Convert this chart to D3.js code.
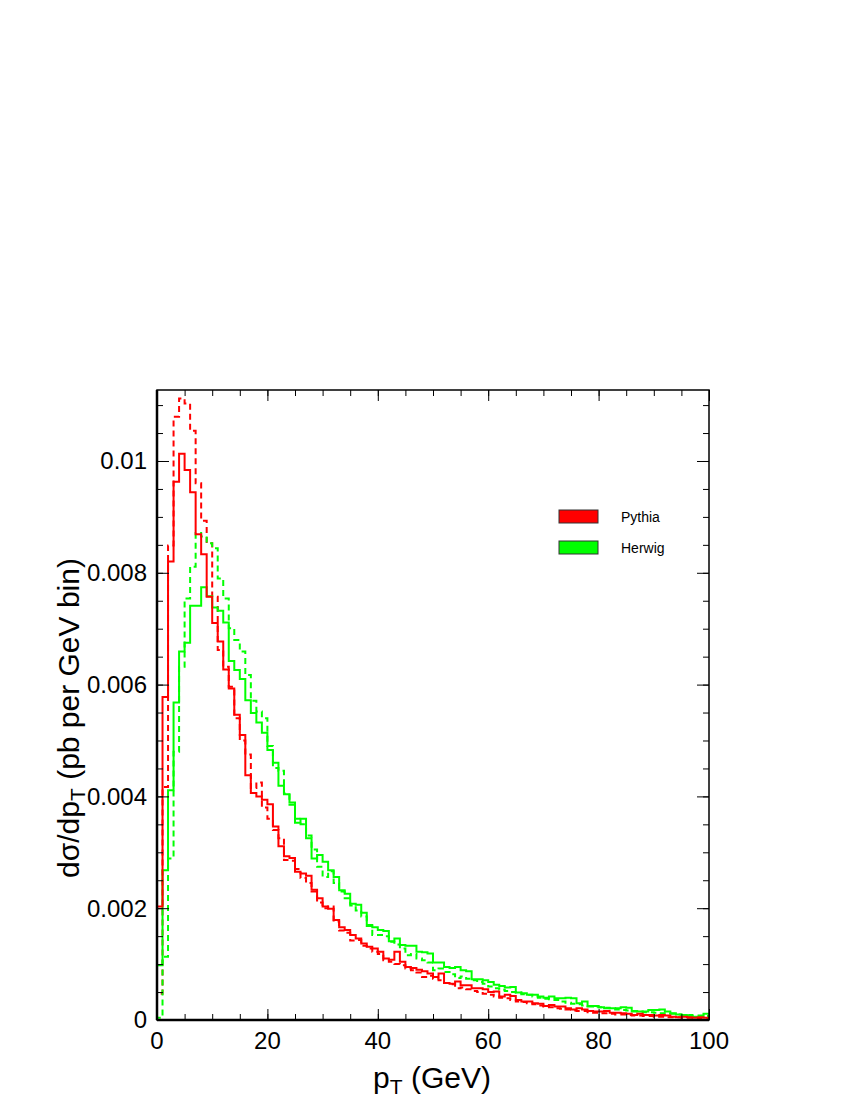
<!DOCTYPE html>
<html>
<head>
<meta charset="utf-8">
<script src="https://cdn.jsdelivr.net/npm/d3@7"></script>
<style>
  body { margin: 0; background: #fff; }
  svg text { font-family: "Liberation Sans", Arial, Helvetica, sans-serif; }
</style>
</head>
<body>
<svg id="chart" width="850" height="1100"></svg>
<script>
// ---- data (1 GeV bins, 0..100 GeV) ----
const binEdges = [0, 100];
const seriesNames = ["Pythia", "Herwig"];
const seriesColors = ["#ff0000", "#00ff00"];

const pythiaSolid = [
  0.00203, 0.00578, 0.00820, 0.00963, 0.01013, 0.00984, 0.00944, 0.00869, 0.00833, 0.00757,
  0.00710, 0.00677, 0.00627, 0.00593, 0.00546, 0.00510, 0.00438, 0.00406, 0.00400, 0.00394,
  0.00386, 0.00346, 0.00311, 0.00293, 0.00290, 0.00265, 0.00262, 0.00258, 0.00233, 0.00218,
  0.00203, 0.00199, 0.00179, 0.00166, 0.00161, 0.00152, 0.00146, 0.00137, 0.00131, 0.00128,
  0.00122, 0.00110, 0.00108, 0.00122, 0.00104, 0.00095, 0.00093, 0.00090, 0.00087, 0.00083,
  0.00077, 0.00083, 0.00066, 0.00065, 0.00069, 0.00062, 0.00062, 0.00057, 0.00057, 0.00055,
  0.00050, 0.00051, 0.00042, 0.00045, 0.00043, 0.00036, 0.00033, 0.00033, 0.00030, 0.00029,
  0.00025, 0.00027, 0.00024, 0.00024, 0.00021, 0.00019, 0.00021, 0.00019, 0.00016, 0.00015,
  0.00015, 0.00016, 0.00013, 0.00013, 0.00012, 0.00011, 0.00009, 0.00011, 0.00009, 0.00009,
  0.00008, 0.00009, 0.00008, 0.00006, 0.00005, 0.00006, 0.00005, 0.00004, 0.00005, 0.00004
];
const pythiaDashed = [
  0.00047, 0.00417, 0.00849, 0.01079, 0.01112, 0.01103, 0.01054, 0.00960, 0.00893, 0.00853,
  0.00757, 0.00662, 0.00632, 0.00596, 0.00540, 0.00500, 0.00475, 0.00415, 0.00425, 0.00380,
  0.00360, 0.00340, 0.00325, 0.00286, 0.00285, 0.00270, 0.00254, 0.00245, 0.00230, 0.00210,
  0.00200, 0.00203, 0.00176, 0.00160, 0.00156, 0.00142, 0.00143, 0.00133, 0.00128, 0.00122,
  0.00118, 0.00107, 0.00104, 0.00100, 0.00098, 0.00092, 0.00089, 0.00085, 0.00077, 0.00079,
  0.00074, 0.00071, 0.00066, 0.00064, 0.00057, 0.00058, 0.00055, 0.00052, 0.00050, 0.00047,
  0.00045, 0.00042, 0.00040, 0.00039, 0.00036, 0.00033, 0.00032, 0.00030, 0.00028, 0.00026,
  0.00024, 0.00023, 0.00021, 0.00020, 0.00019, 0.00017, 0.00016, 0.00016, 0.00014, 0.00013,
  0.00012, 0.00012, 0.00011, 0.00010, 0.00010, 0.00009, 0.00008, 0.00008, 0.00007, 0.00007,
  0.00006, 0.00006, 0.00005, 0.00005, 0.00005, 0.00004, 0.00004, 0.00004, 0.00003, 0.00003
];
const herwigSolid = [
  0.00098, 0.00268, 0.00411, 0.00568, 0.00659, 0.00675, 0.00741, 0.00741, 0.00774, 0.00758,
  0.00738, 0.00732, 0.00711, 0.00642, 0.00626, 0.00610, 0.00572, 0.00549, 0.00532, 0.00514,
  0.00483, 0.00460, 0.00419, 0.00404, 0.00389, 0.00353, 0.00360, 0.00325, 0.00289, 0.00295,
  0.00283, 0.00268, 0.00256, 0.00232, 0.00226, 0.00208, 0.00206, 0.00192, 0.00168, 0.00166,
  0.00161, 0.00159, 0.00141, 0.00146, 0.00134, 0.00133, 0.00133, 0.00122, 0.00121, 0.00119,
  0.00103, 0.00103, 0.00095, 0.00093, 0.00095, 0.00089, 0.00087, 0.00073, 0.00073, 0.00071,
  0.00068, 0.00063, 0.00061, 0.00058, 0.00059, 0.00049, 0.00048, 0.00045, 0.00045, 0.00042,
  0.00040, 0.00042, 0.00039, 0.00039, 0.00040, 0.00039, 0.00030, 0.00033, 0.00024, 0.00025,
  0.00023, 0.00021, 0.00021, 0.00021, 0.00023, 0.00022, 0.00015, 0.00015, 0.00015, 0.00018,
  0.00018, 0.00019, 0.00015, 0.00012, 0.00010, 0.00009, 0.00007, 0.00006, 0.00006, 0.00011
];
const herwigDashed = [
  0.00004, 0.00113, 0.00289, 0.00480, 0.00632, 0.00754, 0.00811, 0.00871, 0.00865, 0.00853,
  0.00844, 0.00790, 0.00754, 0.00701, 0.00680, 0.00659, 0.00617, 0.00571, 0.00552, 0.00540,
  0.00490, 0.00451, 0.00446, 0.00405, 0.00385, 0.00360, 0.00350, 0.00330, 0.00305, 0.00274,
  0.00256, 0.00266, 0.00245, 0.00230, 0.00218, 0.00205, 0.00196, 0.00185, 0.00170, 0.00152,
  0.00152, 0.00150, 0.00140, 0.00135, 0.00128, 0.00116, 0.00118, 0.00110, 0.00107, 0.00103,
  0.00089, 0.00092, 0.00086, 0.00082, 0.00075, 0.00078, 0.00074, 0.00071, 0.00068, 0.00065,
  0.00060, 0.00057, 0.00054, 0.00052, 0.00050, 0.00049, 0.00046, 0.00045, 0.00042, 0.00040,
  0.00038, 0.00037, 0.00036, 0.00033, 0.00031, 0.00029, 0.00028, 0.00026, 0.00025, 0.00024,
  0.00023, 0.00022, 0.00021, 0.00019, 0.00018, 0.00017, 0.00016, 0.00015, 0.00014, 0.00014,
  0.00013, 0.00012, 0.00011, 0.00011, 0.00010, 0.00009, 0.00009, 0.00008, 0.00008, 0.00007
];
const xTickValues = [0, 20, 40, 60, 80, 100];
const yTickValues = [0, 0.002, 0.004, 0.006, 0.008, 0.01];
const yMax = 0.01127;

// ---- layout ----
const L = 157, R = 709, T = 390, B = 1020;
const svg = d3.select("#chart");
const x = d3.scaleLinear().domain(binEdges).range([L, R]);
const y = d3.scaleLinear().domain([0, yMax]).range([B, T]);

svg.append("clipPath").attr("id", "plotclip")
  .append("rect").attr("x", L).attr("y", T).attr("width", R - L).attr("height", B - T);

function histPoints(vals) {
  const pts = [[0, 0]];
  vals.forEach((v, i) => pts.push([i, v]));
  pts.push([vals.length, vals[vals.length - 1]]);
  return pts;
}
const line = d3.line().x(d => x(d[0])).y(d => y(d[1])).curve(d3.curveStepAfter);
const g = svg.append("g").attr("clip-path", "url(#plotclip)");
const hists = [
  { v: pythiaDashed, c: seriesColors[0], dash: "6,4" },
  { v: herwigDashed, c: seriesColors[1], dash: "6,4" },
  { v: herwigSolid, c: seriesColors[1], dash: null },
  { v: pythiaSolid, c: seriesColors[0], dash: null }
];
hists.forEach(h => {
  g.append("path").attr("d", line(histPoints(h.v)))
    .attr("fill", "none").attr("stroke", h.c).attr("stroke-width", 2)
    .attr("stroke-dasharray", h.dash);
});

// axes (ticks inside, ROOT style)
const xMinor = d3.range(0, 101, 5);
const yMinor = d3.range(0, yMax, 0.0005);
function styleAx(sel) { sel.select(".domain").remove(); sel.selectAll("line").attr("stroke", "#000").attr("stroke-width", 1); }
svg.append("g").attr("transform", `translate(0,${B})`).call(d3.axisBottom(x).tickValues(xMinor).tickSize(-6).tickFormat("")).call(styleAx);
svg.append("g").attr("transform", `translate(0,${T})`).call(d3.axisTop(x).tickValues(xMinor).tickSize(-6).tickFormat("")).call(styleAx);
svg.append("g").attr("transform", `translate(${L},0)`).call(d3.axisLeft(y).tickValues(yMinor).tickSize(-6).tickFormat("")).call(styleAx);
svg.append("g").attr("transform", `translate(${R},0)`).call(d3.axisRight(y).tickValues(yMinor).tickSize(-6).tickFormat("")).call(styleAx);
svg.append("g").attr("transform", `translate(0,${B})`).call(d3.axisBottom(x).tickValues(xTickValues).tickSize(-11).tickFormat("")).call(styleAx);
svg.append("g").attr("transform", `translate(0,${T})`).call(d3.axisTop(x).tickValues(xTickValues).tickSize(-11).tickFormat("")).call(styleAx);
svg.append("g").attr("transform", `translate(${L},0)`).call(d3.axisLeft(y).tickValues(yTickValues).tickSize(-12).tickFormat("")).call(styleAx);
svg.append("g").attr("transform", `translate(${R},0)`).call(d3.axisRight(y).tickValues(yTickValues).tickSize(-12).tickFormat("")).call(styleAx);

// frame
svg.append("rect").attr("x", L).attr("y", T).attr("width", R - L).attr("height", B - T)
  .attr("fill", "none").attr("stroke", "#000").attr("stroke-width", 1.5);
svg.append("line").attr("x1", L).attr("x2", L).attr("y1", T).attr("y2", B).attr("stroke", "#000").attr("stroke-width", 2.5);
svg.append("line").attr("x1", L).attr("x2", R).attr("y1", B).attr("y2", B).attr("stroke", "#000").attr("stroke-width", 2.5);

// tick labels
const yFmt = v => v === 0 ? "0" : (v === 0.01 ? "0.01" : v.toFixed(3));
svg.append("g").selectAll("text").data(yTickValues).join("text")
  .attr("x", L - 10).attr("y", d => y(d)).attr("dy", "0.35em")
  .attr("text-anchor", "end").attr("font-size", 24).text(yFmt);
svg.append("g").selectAll("text").data(xTickValues).join("text")
  .attr("x", d => x(d)).attr("y", B + 29)
  .attr("text-anchor", "middle").attr("font-size", 24).text(d => d);

// axis titles
const xt = svg.append("text").attr("x", 432).attr("y", 1088).attr("text-anchor", "middle").attr("font-size", 30);
xt.append("tspan").text("p");
xt.append("tspan").attr("font-size", 21).attr("dy", 6).text("T");
xt.append("tspan").attr("dy", -6).text(" (GeV)");

const yt = svg.append("text").attr("transform", "translate(79,718) rotate(-90)")
  .attr("text-anchor", "middle").attr("font-size", 30);
yt.append("tspan").text("dσ/dp");
yt.append("tspan").attr("font-size", 21).attr("dy", 6).text("T");
yt.append("tspan").attr("dy", -6).text(" (pb per GeV bin)");

// legend
const leg = svg.append("g");
seriesNames.forEach((n, i) => {
  const yy = 510 + i * 31;
  leg.append("rect").attr("x", 559).attr("y", yy).attr("width", 39).attr("height", 13)
    .attr("fill", seriesColors[i]).attr("stroke", "#333").attr("stroke-width", 1);
  leg.append("text").attr("x", 621).attr("y", yy + 7).attr("dy", "0.35em")
    .attr("font-size", 14).text(n);
});
</script>
</body>
</html>
